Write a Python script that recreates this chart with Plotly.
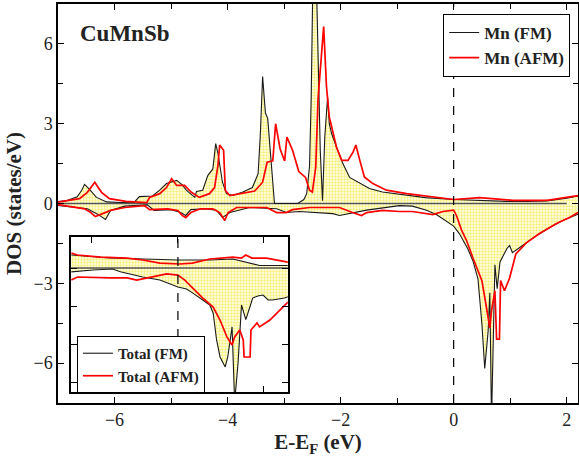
import plotly.graph_objects as go

# ---------------- main panel data: Mn partial DOS ----------------
mn_fm_up_x = [-7.0, -6.84, -6.66, -6.58, -6.53, -6.45, -6.32, -6.14, -5.9, -5.65, -5.56, -5.33, -5.2, -5.08, -4.9,
              -4.8, -4.73, -4.58, -4.55, -4.44, -4.35, -4.26, -4.21, -4.17, -4.09, -4.02, -3.91, -3.73, -3.56,
              -3.46, -3.42, -3.38, -3.33, -3.29, -3.17, -2.76, -2.65, -2.6, -2.55, -2.52, -2.49, -2.43, -2.36,
              -2.32, -2.28, -2.23, -2.2, -2.16, -2.07, -1.96, -1.84, -1.66, -1.49, -1.26, -0.83, -0.5, 0.0, 0.5,
              0.94, 1.3, 1.65, 2.0, 2.2]
mn_fm_up_y = [0.07, 0.11, 0.25, 0.5, 0.72, 0.55, 0.23, 0.06, 0.04, 0.05, 0.26, 0.28, 0.5, 0.75, 0.87,
              0.7, 0.5, 0.23, 0.45, 0.5, 1.05, 1.3, 2.25, 1.88, 0.8, 0.37, 0.3, 0.43, 0.6,
              1.12, 2.6, 4.77, 3.4, 3.2, 0.0, 0.0, 0.15, 0.37, 1.4, 4.0, 8.5, 8.5, 2.0,
              0.1, 2.5, 4.0, 3.0, 2.63, 2.1, 1.5, 0.98, 0.75, 0.56, 0.43, 0.3, 0.22, 0.15, 0.1,
              0.08, 0.08, 0.1, 0.2, 0.28]

mn_afm_up_x = [-7.0, -6.62, -6.48, -6.35, -6.23, -6.09, -5.8, -5.43, -5.38, -5.2, -5.08, -4.99, -4.9, -4.76,
               -4.64, -4.5, -4.32, -4.23, -4.17, -4.14, -4.07, -4.04, -3.96, -3.79, -3.52, -3.38, -3.3, -3.2,
               -3.15, -3.07, -2.99, -2.95, -2.85, -2.74, -2.62, -2.55, -2.5, -2.44, -2.4, -2.3, -2.25, -2.2,
               -2.07, -1.98, -1.87, -1.78, -1.73, -1.66, -1.58, -1.43, -1.19, -0.83, -0.4, 0.0, 0.46, 1.04,
               1.65, 2.2]
mn_afm_up_y = [0.05, 0.18, 0.42, 0.8, 0.42, 0.18, 0.08, 0.03, 0.23, 0.37, 0.6, 0.93, 0.68, 0.68,
               0.42, 0.23, 0.37, 0.6, 1.43, 2.2, 2.0, 0.5, 0.3, 0.37, 0.47, 0.8, 1.55, 1.6,
               3.0, 2.05, 1.6, 2.5, 2.0, 1.2, 0.98, 0.5, 0.43, 1.37, 3.9, 6.65, 4.4, 3.25,
               2.1, 1.62, 1.62, 1.93, 2.2, 1.62, 1.0, 0.75, 0.5, 0.37, 0.25, 0.15, 0.22, 0.12,
               0.12, 0.3]

mn_fm_dn_x = [-7.0, -6.48, -6.3, -6.16, -6.07, -5.82, -5.42, -5.3, -5.0, -4.83, -4.74, -4.65, -4.4, -4.2,
              -4.09, -3.96, -3.61, -3.13, -2.96, -2.73, -2.14, -2.02, -1.54, -0.96, -0.73, -0.48, -0.3, -0.13,
              0.0, 0.1, 0.25, 0.34, 0.43, 0.5, 0.55, 0.61, 0.64, 0.67, 0.73, 0.77, 0.82, 0.94, 0.99, 1.04,
              1.1, 1.22, 1.47, 1.7, 1.93, 2.2]
mn_fm_dn_y = [-0.07, -0.2, -0.4, -0.6, -0.26, -0.1, -0.05, -0.26, -0.23, -0.34, -0.45, -0.23, -0.2, -0.25,
              -0.53, -0.34, -0.15, -0.2, -0.34, -0.3, -0.38, -0.45, -0.25, -0.08, -0.1, -0.25, -0.42, -0.65,
              -0.85, -1.13, -1.7, -2.15, -2.83, -4.53, -6.2, -4.8, -3.36, -8.2, -2.3, -3.2, -2.2, -1.7, -1.58,
              -1.85, -1.77, -1.58, -1.2, -0.9, -0.64, -0.4]

mn_afm_dn_x = [-7.0, -6.53, -6.42, -6.34, -6.21, -6.07, -5.82, -5.47, -5.38, -5.06, -4.88, -4.8, -4.74,
               -4.65, -4.48, -4.26, -4.14, -4.05, -3.99, -3.84, -3.31, -3.13, -2.96, -2.85, -2.55, -2.37,
               -2.02, -1.79, -1.63, -1.54, -1.26, -0.96, -0.73, -0.37, -0.19, 0.0, 0.05, 0.14, 0.23, 0.34,
               0.5, 0.58, 0.64, 0.67, 0.73, 0.76, 0.81, 0.83, 0.9, 0.99, 1.1, 1.29, 1.52, 1.82, 2.05, 2.2]
mn_afm_dn_y = [-0.04, -0.2, -0.34, -0.49, -0.38, -0.26, -0.15, -0.08, -0.23, -0.2, -0.26, -0.45, -0.53,
               -0.34, -0.2, -0.2, -0.34, -0.64, -0.34, -0.15, -0.15, -0.34, -0.34, -0.23, -0.15, -0.15,
               -0.15, -0.34, -0.45, -0.34, -0.26, -0.3, -0.3, -0.42, -0.3, -0.25, -0.45, -1.0, -1.4, -2.04,
               -2.9, -3.9, -4.68, -4.04, -3.28, -5.1, -5.1, -2.9, -3.28, -2.8, -1.9, -1.47, -1.13, -0.75,
               -0.53, -0.34]

zero_line_x = [-7.0, 2.0]
zero_line_y = [0.0, 0.0]

# ---------------- inset data: total DOS ----------------
tot_fm_up_x = [-1.24, -0.79, 0.0, 0.37, 0.64, 0.8, 0.95, 1.28]
tot_fm_up_y = [0.68, 0.52, 0.42, 0.42, 0.47, 0.31, 0.13, 0.13]
tot_afm_up_x = [-1.24, -1.17, -0.9, -0.59, -0.41, -0.21, 0.02, 0.17, 0.37, 0.64, 0.74, 0.79, 0.86, 1.03, 1.28]
tot_afm_up_y = [0.78, 0.68, 0.57, 0.52, 0.42, 0.26, 0.21, 0.26, 0.47, 0.57, 0.52, 0.68, 0.52, 0.52, 0.31]
tot_fm_dn_x = [-1.24, -0.99, -0.76, -0.67, -0.41, -0.21, 0.0, 0.1, 0.17, 0.29, 0.37, 0.41, 0.45, 0.49, 0.55,
               0.58, 0.63, 0.66, 0.7, 0.74, 0.79, 0.84, 0.87, 0.93, 0.99, 1.05, 1.1, 1.24, 1.28]
tot_fm_dn_y = [-0.2, -0.1, -0.05, -0.2, -0.47, -0.63, -0.99, -1.1, -1.3, -1.67, -1.93, -2.35, -3.76, -4.65, -5.17,
               -4.65, -3.08, -7.0, -4.96, -1.93, -2.7, -2.0, -1.57, -1.46, -1.41, -1.67, -1.67, -1.57, -1.5]
tot_afm_dn_x = [-1.24, -1.17, -0.79, -0.59, -0.48, -0.29, -0.13, 0.0, 0.08, 0.17, 0.29, 0.41, 0.49, 0.57, 0.63,
                0.66, 0.72, 0.76, 0.77, 0.84, 0.85, 0.92, 0.95, 1.07, 1.19, 1.28]
tot_afm_dn_y = [-0.63, -0.47, -0.52, -0.52, -0.63, -0.47, -0.31, -0.37, -0.63, -1.04, -1.57, -2.04, -2.72, -3.6,
                -4.02, -3.6, -3.24, -3.76, -4.65, -4.65, -3.24, -2.87, -3.08, -2.72, -2.2, -1.78]
inset_zero_x = [-1.3, 1.3]
inset_zero_y = [0.0, 0.0]

FONT = "Liberation Serif"
BLACK = "#1a1a1a"
RED = "#ff0000"
fillpat = dict(shape=".", fgcolor="#f0e000", bgcolor="#fffff2", size=3, solidity=0.5)

fig = go.Figure()


def add_fill(x, y, xa, ya):
    fig.add_trace(go.Scatter(x=x, y=y, mode="lines", line=dict(width=0), fill="tozeroy",
                             fillpattern=fillpat, showlegend=False, hoverinfo="skip",
                             xaxis=xa, yaxis=ya))


def add_line(x, y, color, width, name, show, legend, xa, ya):
    fig.add_trace(go.Scatter(x=x, y=y, mode="lines", line=dict(color=color, width=width),
                             name=name, showlegend=show, legendgroup=name, legend=legend,
                             xaxis=xa, yaxis=ya))


# main fills
add_fill(mn_fm_up_x, mn_fm_up_y, "x", "y")
add_fill(mn_fm_dn_x, mn_fm_dn_y, "x", "y")
fig.add_trace(go.Scatter(x=zero_line_x, y=zero_line_y, mode="lines", line=dict(color="#555555", width=1.5),
                         showlegend=False, hoverinfo="skip"))
add_line(mn_fm_up_x, mn_fm_up_y, BLACK, 1.1, "<b>Mn (FM)</b>", True, "legend", "x", "y")
add_line(mn_fm_dn_x, mn_fm_dn_y, BLACK, 1.1, "<b>Mn (FM)</b>", False, "legend", "x", "y")
add_line(mn_afm_up_x, mn_afm_up_y, RED, 1.7, "<b>Mn (AFM)</b>", True, "legend", "x", "y")
add_line(mn_afm_dn_x, mn_afm_dn_y, RED, 1.7, "<b>Mn (AFM)</b>", False, "legend", "x", "y")

# inset
add_fill(tot_fm_up_x, tot_fm_up_y, "x2", "y2")
add_fill(tot_fm_dn_x, tot_fm_dn_y, "x2", "y2")
fig.add_trace(go.Scatter(x=inset_zero_x, y=inset_zero_y, mode="lines", line=dict(color="#555555", width=1.5),
                         showlegend=False, hoverinfo="skip", xaxis="x2", yaxis="y2"))
add_line(tot_fm_up_x, tot_fm_up_y, BLACK, 1.1, "<b>Total (FM)</b>", True, "legend2", "x2", "y2")
add_line(tot_fm_dn_x, tot_fm_dn_y, BLACK, 1.1, "<b>Total (FM)</b>", False, "legend2", "x2", "y2")
add_line(tot_afm_up_x, tot_afm_up_y, RED, 1.7, "<b>Total (AFM)</b>", True, "legend2", "x2", "y2")
add_line(tot_afm_dn_x, tot_afm_dn_y, RED, 1.7, "<b>Total (AFM)</b>", False, "legend2", "x2", "y2")

axis_common = dict(showline=True, linecolor="black", linewidth=1.5, mirror="ticks", ticks="inside",
                   tickcolor="black", tickwidth=1.2, ticklen=6, showgrid=False, zeroline=False,
                   automargin=False)
tickfont = dict(family=FONT, size=18, color="#222")

fig.update_layout(
    width=579, height=457,
    margin=dict(l=58, r=1, t=4, b=54),
    paper_bgcolor="white", plot_bgcolor="white",
    font=dict(family=FONT, color="#222"),
    xaxis=dict(range=[-7.0, 2.2], dtick=2, tick0=0, tickfont=tickfont,
               minor=dict(dtick=1, ticks="inside", ticklen=5, tickwidth=1.2, tickcolor="black"),
               title=dict(text="<b>E-E<sub>F</sub> (eV)</b>", font=dict(family=FONT, size=21), standoff=0),
               **axis_common),
    yaxis=dict(range=[-7.5, 7.5], dtick=3, tick0=0, tickfont=tickfont,
               minor=dict(dtick=1.5, ticks="inside", ticklen=5, tickwidth=1.2, tickcolor="black"),
               title=dict(text="<b>DOS (states/eV)</b>", font=dict(family=FONT, size=21), standoff=6),
               **axis_common),
    xaxis2=dict(domain=[0.025, 0.442], anchor="y2", range=[-1.244, 1.279], dtick=1, tick0=0,
                showticklabels=False, **axis_common),
    yaxis2=dict(domain=[0.0276, 0.416], anchor="x2", range=[-6.48, 1.62], dtick=2, tick0=0,
                showticklabels=False, **axis_common),
    legend=dict(x=0.985, y=0.975, xanchor="right", yanchor="top", bgcolor="white",
                bordercolor="black", borderwidth=1, font=dict(family=FONT, size=17, color="#222"),
                tracegroupgap=0),
    legend2=dict(x=0.0365, y=0.168, xanchor="left", yanchor="top", bgcolor="white",
                 bordercolor="black", borderwidth=1, font=dict(family=FONT, size=15, color="#222"),
                 tracegroupgap=0),
    annotations=[dict(text="<b>CuMnSb</b>", xref="paper", yref="paper", x=0.0385, y=0.925,
                      xanchor="left", yanchor="middle", showarrow=False,
                      font=dict(family=FONT, size=23, color="#222"))],
    shapes=[
        dict(type="line", xref="x", yref="y domain", x0=0, x1=0, y0=0, y1=1,
             line=dict(color="black", width=1.2, dash="dash")),
        dict(type="line", xref="x2", yref="y2 domain", x0=0, x1=0, y0=0, y1=1,
             line=dict(color="black", width=1.2, dash="dash")),
    ],
)

fig.write_html("out.html", config={"displayModeBar": False},
               post_script="document.body.style.margin='0';document.body.style.overflow='hidden';")
